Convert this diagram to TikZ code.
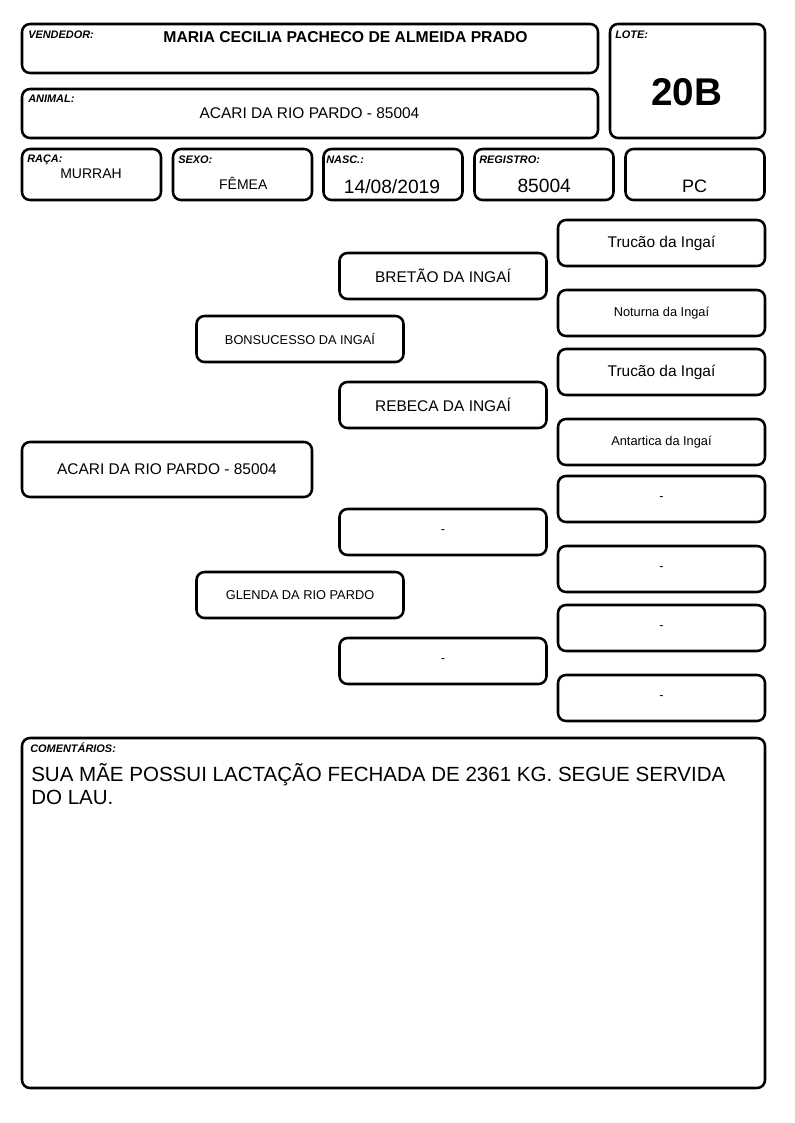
\documentclass[tikz,border=0pt]{standalone}
\usepackage{fontspec}
\setmainfont{Liberation Sans}
\usetikzlibrary{positioning}

\begin{document}
\begin{tikzpicture}[x=0.75pt,y=-0.75pt]
\tikzset{
  box/.style={draw=black,line width=1.9pt,rounded corners=6pt,inner sep=0pt},
  info/.style={box,minimum width=104.25pt,minimum height=38.25pt},
  ped/.style={box,minimum width=155.25pt,minimum height=34.5pt,align=center},
  lbl/.style={inner sep=0pt,anchor=base west,font=\fontsize{8.2}{9}\selectfont\bfseries\itshape},
  val/.style={inner sep=0pt,anchor=base},
  big/.style={font=\fontsize{11.6}{13}\selectfont},
  small/.style={font=\fontsize{9.6}{11}\selectfont}
}
\useasboundingbox[fill=white] (0,0) rectangle (794,1123);

\node[box,minimum width=432pt,minimum height=36.75pt] (vendbox) at (310,48.5) {};
\node[box,minimum width=432pt,minimum height=36.75pt] (animalbox) at (310,113.5) {};
\node[box,minimum width=116.25pt,minimum height=85.5pt] (lotebox) at (687.5,81) {};
\node[info] (racabox) at (91.5,174.5) {};
\node[info] (sexobox) at (242.5,174.5) {};
\node[info] (nascbox) at (393,174.5) {};
\node[info] (regbox) at (544,174.5) {};
\node[info] (pcbox) at (695,174.5) {};

\node[lbl] (vendlbl) at (28,39) {VENDEDOR:};
\node[val,font=\fontsize{11.8}{13}\selectfont\bfseries] (vend) at (345.5,43) {MARIA CECILIA PACHECO DE ALMEIDA PRADO};
\node[lbl] (animallbl) at (28,102.3) {ANIMAL:};
\node[val,big] (animal) at (309.5,118.3) {ACARI DA RIO PARDO - 85004};
\node[lbl] (lotelbl) at (615,39) {LOTE:};
\node[val,font=\fontsize{29}{32}\selectfont\bfseries] (lote) at (686.5,105.7) {20B};
\node[lbl] (racalbl) at (27,162.5) {RAÇA:};
\node[val,font=\fontsize{10.5}{12}\selectfont] (raca) at (91,178.3) {MURRAH};
\node[lbl] (sexolbl) at (178,164) {SEXO:};
\node[val,font=\fontsize{10.5}{12}\selectfont] (sexo) at (243.3,189.3) {FÊMEA};
\node[lbl] (nasclbl) at (326,164) {NASC.:};
\node[val,font=\fontsize{14.4}{16}\selectfont] (nasc) at (392,193.3) {14/08/2019};
\node[lbl] (reglbl) at (479,164) {REGISTRO:};
\node[val,font=\fontsize{14.4}{16}\selectfont] (reg) at (544.2,192.3) {85004};
\node[val,font=\fontsize{13.5}{15}\selectfont] (pc) at (694.5,192.3) {PC};

\node[ped,big] (ppp) at (661.5,243) {Trucão da Ingaí};
\node[ped,small] (mpp) at (661.5,313) {Noturna da Ingaí};
\node[ped,big] (pmp) at (661.5,372) {Trucão da Ingaí};
\node[ped,small] (mmp) at (661.5,442) {Antartica da Ingaí};
\node[ped,small] (ppm) at (661.5,499) {-};
\node[ped,small] (mpm) at (661.5,569) {-};
\node[ped,small] (pmm) at (661.5,628) {-};
\node[ped,small] (mmm) at (661.5,698) {-};

\node[ped,big] (pp) at (443,276) {BRETÃO DA INGAÍ};
\node[ped,big] (mp) at (443,405) {REBECA DA INGAÍ};
\node[ped,small] (pm) at (443,532) {-};
\node[ped,small] (mm) at (443,661) {-};

\node[ped,small] (pai) at (300,339) {BONSUCESSO DA INGAÍ};
\node[ped,small] (mae) at (300,595) {GLENDA DA RIO PARDO};

\node[box,big,minimum width=217.5pt,minimum height=41.25pt] (acari) at (167,469.5) {ACARI DA RIO PARDO - 85004};

\node[box,minimum width=557.25pt,minimum height=262.5pt] (combox) at (393.5,913) {};
\node[lbl] (comlbl) at (30,752.3) {COMENTÁRIOS:};
\node[inner sep=0pt,anchor=base west,align=left,font=\fontsize{15.4}{17}\selectfont] (com) at (31,804.3)
  {SUA MÃE POSSUI LACTAÇÃO FECHADA DE 2361 KG. SEGUE SERVIDA\\DO LAU.};
\end{tikzpicture}
\end{document}
